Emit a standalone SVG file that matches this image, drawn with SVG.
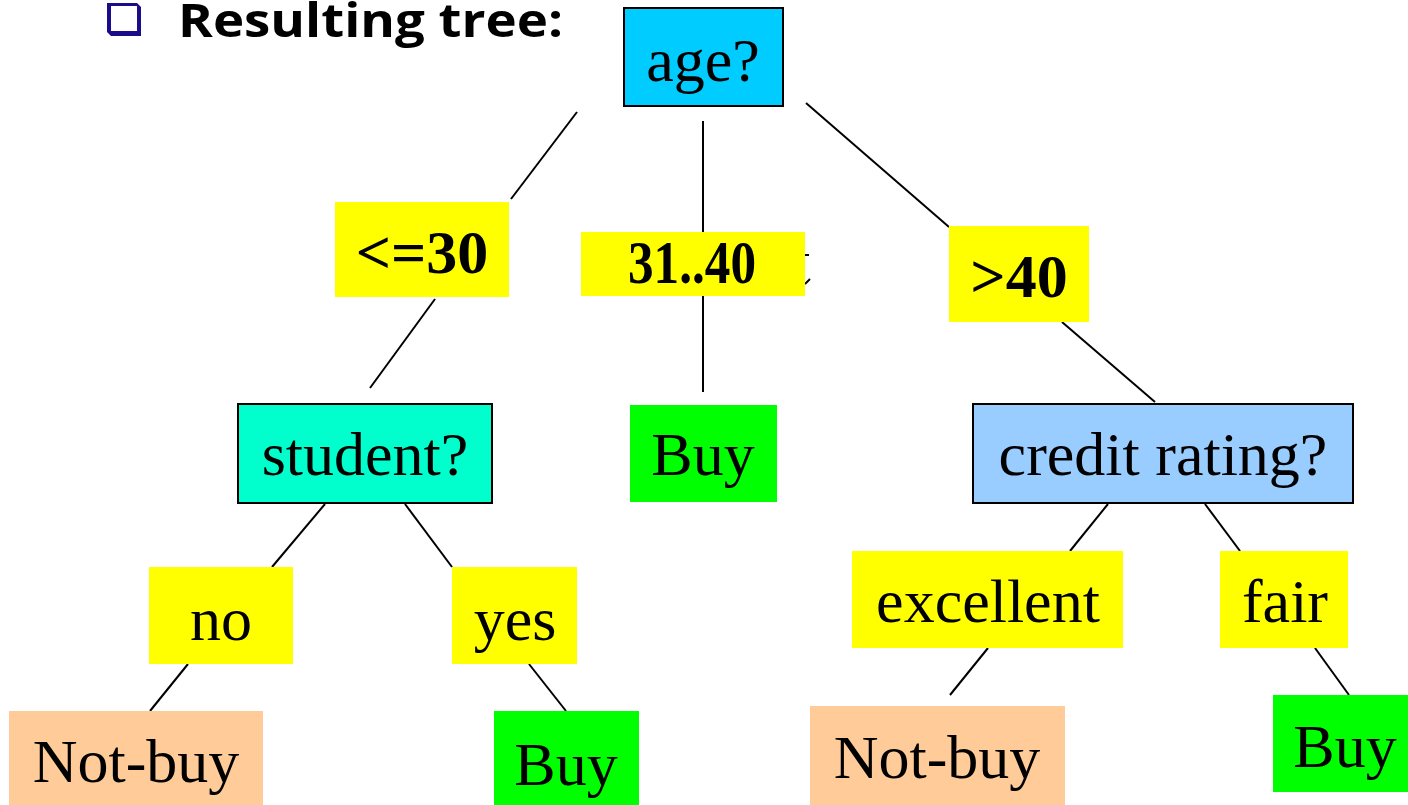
<svg xmlns="http://www.w3.org/2000/svg" width="1408" height="805" viewBox="0 0 1408 805">
  <style>
    .lbl { font-family: "Liberation Serif", "Times New Roman", serif; font-size: 62px; fill: #000; text-anchor: middle; }
    .bold { font-weight: bold; }
    .edge { stroke: #000; stroke-width: 2; fill: none; }
    .test { stroke: #000; stroke-width: 2; }
    .branch { fill: #FFFF00; }
    .leafyes { fill: #00FF00; }
    .leafno { fill: #FFCC99; }
  </style>

  <!-- heading with bullet -->
  <g id="heading">
    <path d="M107 3 H137 L141 7 V36 H111 L107 32 Z" fill="#1A0C8A"/>
    <rect x="111" y="6" width="26" height="25" fill="#FFFFFF"/>
    <text x="178" y="37" font-family="'Open Sans', 'Liberation Sans', sans-serif" font-weight="bold" font-size="47" style="font-variant-ligatures: none" textLength="385" lengthAdjust="spacingAndGlyphs">Resulting tree:</text>
  </g>

  <!-- connectors -->
  <g id="connectors">
    <line class="edge" x1="577" y1="112" x2="511" y2="199"/>
    <line class="edge" x1="703" y1="121" x2="703" y2="232"/>
    <line class="edge" x1="806" y1="103" x2="949" y2="227"/>
    <line class="edge" x1="435" y1="299" x2="370" y2="388"/>
    <line class="edge" x1="703" y1="296" x2="703" y2="392"/>
    <line class="edge" x1="1062" y1="322" x2="1155" y2="402"/>
    <line class="edge" x1="325" y1="504" x2="272" y2="567"/>
    <line class="edge" x1="405" y1="504" x2="452" y2="567"/>
    <line class="edge" x1="1108" y1="504" x2="1070" y2="551"/>
    <line class="edge" x1="1205" y1="504" x2="1240" y2="551"/>
    <line class="edge" x1="188" y1="664" x2="150" y2="711"/>
    <line class="edge" x1="529" y1="664" x2="566" y2="711"/>
    <line class="edge" x1="988" y1="648" x2="950" y2="695"/>
    <line class="edge" x1="1315" y1="648" x2="1349" y2="695"/>
    <!-- small stray marks beside the 31..40 label -->
    <line class="edge" x1="805" y1="255" x2="809" y2="255"/>
    <line class="edge" x1="805" y1="284" x2="810" y2="279"/>
  </g>

  <!-- test nodes -->
  <g id="node-age">
    <rect class="test" x="624" y="8" width="159" height="98" fill="#00CCFF"/>
    <text class="lbl" x="703" y="81" font-size="60">age?</text>
  </g>
  <g id="node-student">
    <rect class="test" x="238" y="404" width="254" height="99" fill="#00FFCC"/>
    <text class="lbl" x="365" y="475">student?</text>
  </g>
  <g id="node-credit">
    <rect class="test" x="973" y="404" width="380" height="99" fill="#99CCFF"/>
    <text class="lbl" x="1163" y="475">credit rating?</text>
  </g>

  <!-- branch labels -->
  <g id="branch-le30">
    <rect class="branch" x="335" y="202" width="174" height="95"/>
    <text class="lbl bold" x="422" y="273" font-size="60">&lt;=30</text>
  </g>
  <g id="branch-31-40">
    <rect class="branch" x="581" y="232" width="224" height="64"/>
    <text class="lbl bold" x="692" y="283" font-size="50" textLength="128" lengthAdjust="spacingAndGlyphs">31..40</text>
  </g>
  <g id="branch-gt40">
    <rect class="branch" x="949" y="226" width="140" height="96"/>
    <text class="lbl bold" x="1019" y="297" font-size="62">&gt;40</text>
  </g>
  <g id="branch-no">
    <rect class="branch" x="149" y="567" width="144" height="97"/>
    <text class="lbl" x="221" y="640">no</text>
  </g>
  <g id="branch-yes">
    <rect class="branch" x="452" y="567" width="125" height="97"/>
    <text class="lbl" x="515" y="640">yes</text>
  </g>
  <g id="branch-excellent">
    <rect class="branch" x="852" y="551" width="271" height="97"/>
    <text class="lbl" x="988" y="622" font-size="63">excellent</text>
  </g>
  <g id="branch-fair">
    <rect class="branch" x="1220" y="551" width="128" height="97"/>
    <text class="lbl" x="1285" y="622" font-size="63">fair</text>
  </g>

  <!-- leaves -->
  <g id="leaf-buy-mid">
    <rect class="leafyes" x="630" y="405" width="147" height="97"/>
    <text class="lbl" x="703" y="475">Buy</text>
  </g>
  <g id="leaf-notbuy-left">
    <rect class="leafno" x="9" y="711" width="254" height="94"/>
    <text class="lbl" x="136" y="782" font-size="64">Not-buy</text>
  </g>
  <g id="leaf-buy-left">
    <rect class="leafyes" x="494" y="711" width="145" height="94"/>
    <text class="lbl" x="566" y="785">Buy</text>
  </g>
  <g id="leaf-notbuy-right">
    <rect class="leafno" x="810" y="706" width="255" height="99"/>
    <text class="lbl" x="937" y="778" font-size="64">Not-buy</text>
  </g>
  <g id="leaf-buy-right">
    <rect class="leafyes" x="1273" y="695" width="135" height="97"/>
    <text class="lbl" x="1345" y="767">Buy</text>
  </g>
</svg>
